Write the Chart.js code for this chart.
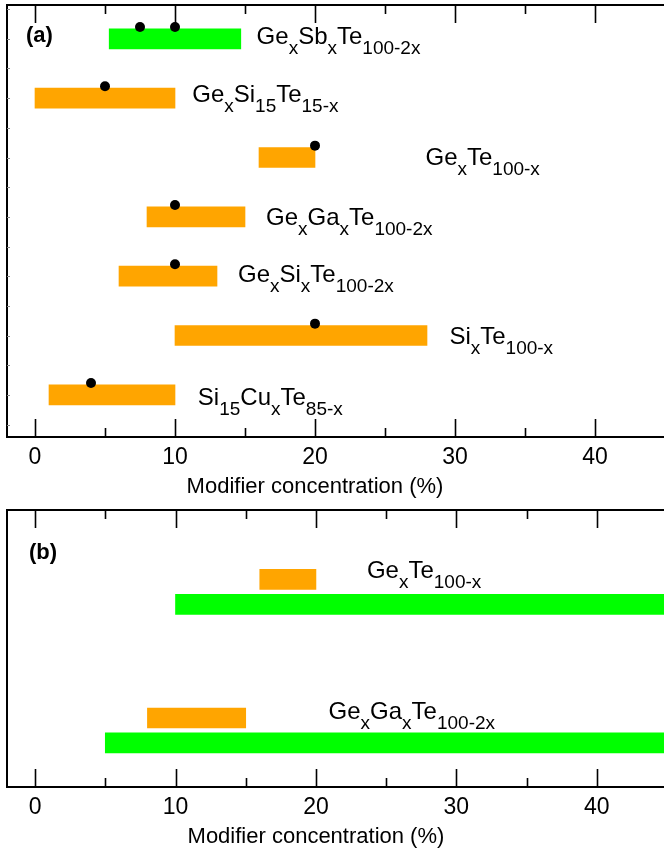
<!DOCTYPE html>
<html>
<head>
<meta charset="utf-8">
<script src="https://cdn.jsdelivr.net/npm/chart.js@4.4.0/dist/chart.umd.min.js"></script>
<style>
  html, body { margin: 0; padding: 0; background: #fff; overflow: hidden; width: 664px; height: 852px; }
  .panel { position: absolute; left: 0; }
  #wrapA { top: 0; }
  #wrapB { top: 500px; }
</style>
</head>
<body>
<div class="panel" id="wrapA"><canvas id="chartA" width="670" height="500"></canvas></div>
<div class="panel" id="wrapB"><canvas id="chartB" width="670" height="352"></canvas></div>
<script>
// panel (a), rows from top to bottom
const alloysA = ['Ge_{x}Sb_{x}Te_{100-2x}', 'Ge_{x}Si_{15}Te_{15-x}', 'Ge_{x}Te_{100-x}',
  'Ge_{x}Ga_{x}Te_{100-2x}', 'Ge_{x}Si_{x}Te_{100-2x}', 'Si_{x}Te_{100-x}', 'Si_{15}Cu_{x}Te_{85-x}'];
const startA = [5.3, 0, 16, 8, 6, 10, 1];
const endA = [14.7, 10, 20, 15, 13, 28, 10];
// black dots (row index into alloysA)
const dotX = [7.5, 10, 5, 20, 10, 10, 20, 4];
const dotRow = [0, 0, 1, 2, 3, 4, 5, 6];

// panel (b)
const alloysB = ['Ge_{x}Te_{100-x}', 'Ge_{x}Ga_{x}Te_{100-2x}'];
const orangeStartB = [16, 8];
const orangeEndB = [20, 15];
const greenStartB = [10, 5];
const greenEndB = [50, 50]; // runs past the right edge

const xTicks = [0, 5, 10, 15, 20, 25, 30, 35, 40];

const FONT = "'Liberation Sans', Arial, sans-serif";
const ORANGE = '#FFA500';
const GREEN = '#00FF00';

// where the formula labels go (x in axis units, y = px from row centre)
const labelXA = [15.83, 11.23, 27.89, 16.5, 14.5, 29.6, 11.63];
const labelDyA = [5, 4, 7, 8, 6, 8, 10];
const labelXB = [23.63, 20.9];
const labelDyB = [-26, -24.4];

const rowA = i => alloysA.length - i;
const rowB = i => alloysB.length - i;
const DOT_LIFT = 0.2;
const ORANGE_LIFT = 0.18;

function drawChem(ctx, str, x, y) {
  const parts = str.match(/_\{[^}]*\}|[^_]+/g);
  ctx.textBaseline = 'alphabetic';
  ctx.textAlign = 'left';
  ctx.fillStyle = '#000';
  for (const p of parts) {
    if (p.startsWith('_{')) {
      const t = p.slice(2, -1);
      ctx.font = '19px ' + FONT;
      ctx.fillText(t, x, y + 10);
      x += ctx.measureText(t).width;
    } else {
      ctx.font = '24px ' + FONT;
      ctx.fillText(p, x, y);
      x += ctx.measureText(p).width;
    }
  }
}

function framePlugin(letter, letterPos, labels, labelX, labelDy, rowOf, leftTicks) {
  return {
    id: 'frame',
    afterDraw(chart) {
      const { ctx, chartArea: a, scales } = chart;
      const xs = scales.x, ys = scales.y;
      ctx.save();
      ctx.strokeStyle = '#000';
      ctx.lineWidth = 2;
      ctx.strokeRect(a.left, a.top, a.right - a.left, a.bottom - a.top);
      ctx.lineWidth = 1.6;
      ctx.beginPath();
      xTicks.forEach(v => {
        const px = Math.round(xs.getPixelForValue(v)) + 0.5;
        const len = v % 10 === 0 ? 18 : 9;
        ctx.moveTo(px, a.bottom); ctx.lineTo(px, a.bottom - len);
        ctx.moveTo(px, a.top); ctx.lineTo(px, a.top + len);
      });
      ctx.stroke();
      if (leftTicks) {
        ctx.strokeStyle = '#888';
        ctx.lineWidth = 1;
        ctx.beginPath();
        for (let v = 0.5; v < ys.max; v += 0.5) {
          const py = Math.round(ys.getPixelForValue(v)) + 0.5;
          ctx.moveTo(a.left, py); ctx.lineTo(a.left + 3, py);
        }
        ctx.stroke();
      }
      // formula labels
      labels.forEach((s, i) => {
        drawChem(ctx, s, xs.getPixelForValue(labelX[i]), ys.getPixelForValue(rowOf(i)) + labelDy[i]);
      });
      // panel letter
      ctx.fillStyle = '#000';
      ctx.font = 'bold 22px ' + FONT;
      ctx.textAlign = 'left';
      ctx.textBaseline = 'alphabetic';
      ctx.fillText(letter, letterPos[0], letterPos[1]);
      // axis title
      ctx.font = '22px ' + FONT;
      ctx.textAlign = 'center';
      ctx.fillText('Modifier concentration (%)', xs.getPixelForValue(20), a.bottom + 56);
      ctx.restore();
    }
  };
}

function xScale(height) {
  return {
    type: 'linear', min: -2, max: 45, offset: false,
    afterBuildTicks: s => { s.ticks = xTicks.map(v => ({ value: v })); },
    afterFit: s => { s.height = height; },
    grid: { display: false, drawTicks: false, offset: false },
    border: { display: false },
    ticks: {
      padding: 7, color: '#000', maxRotation: 0, autoSkip: false,
      font: { family: FONT, size: 23 },
      callback: v => (v % 10 === 0 ? v : '')
    }
  };
}

function baseOptions(yMin, yMax, xHeight, top) {
  return {
    responsive: false,
    animation: false,
    devicePixelRatio: 1,
    layout: { padding: { top: top, left: 7, right: 3, bottom: 0 } },
    plugins: { legend: { display: false }, tooltip: { enabled: false } },
    scales: {
      x: xScale(xHeight),
      y: { type: 'linear', min: yMin, max: yMax, display: false, offset: false, grid: { offset: false } }
    }
  };
}

new Chart(document.getElementById('chartA'), {
  type: 'bar',
  data: {
    datasets: [
      {
        type: 'scatter',
        data: dotX.map((x, k) => ({ x: x, y: rowA(dotRow[k]) + DOT_LIFT })),
        pointRadius: 5, pointBackgroundColor: '#000', pointBorderWidth: 0, order: 1
      },
      {
        type: 'bar', indexAxis: 'y', grouped: false,
        data: alloysA.map((_, i) => ({ x: [startA[i], endA[i]], y: rowA(i) })),
        backgroundColor: ctx => (ctx.dataIndex === 0 ? GREEN : ORANGE),
        borderWidth: 0, barThickness: 20, order: 2
      }
    ]
  },
  options: baseOptions(0.29, 7.57, 63, 3),
  plugins: [framePlugin('(a)', [26, 42], alloysA, labelXA, labelDyA, rowA, true)]
});

new Chart(document.getElementById('chartB'), {
  type: 'bar',
  data: {
    datasets: [
      {
        type: 'bar', indexAxis: 'y', grouped: false,
        data: alloysB.map((_, i) => ({ x: [orangeStartB[i], orangeEndB[i]], y: rowB(i) + ORANGE_LIFT })),
        backgroundColor: ORANGE, borderWidth: 0, barThickness: 20
      },
      {
        type: 'bar', indexAxis: 'y', grouped: false,
        data: alloysB.map((_, i) => ({ x: [greenStartB[i], greenEndB[i]], y: rowB(i) })),
        backgroundColor: GREEN, borderWidth: 0, barThickness: 20
      }
    ]
  },
  options: baseOptions(0.682, 2.681, 65, 10),
  plugins: [framePlugin('(b)', [29, 58.5], alloysB, labelXB, labelDyB, rowB, false)]
});
</script>
</body>
</html>
